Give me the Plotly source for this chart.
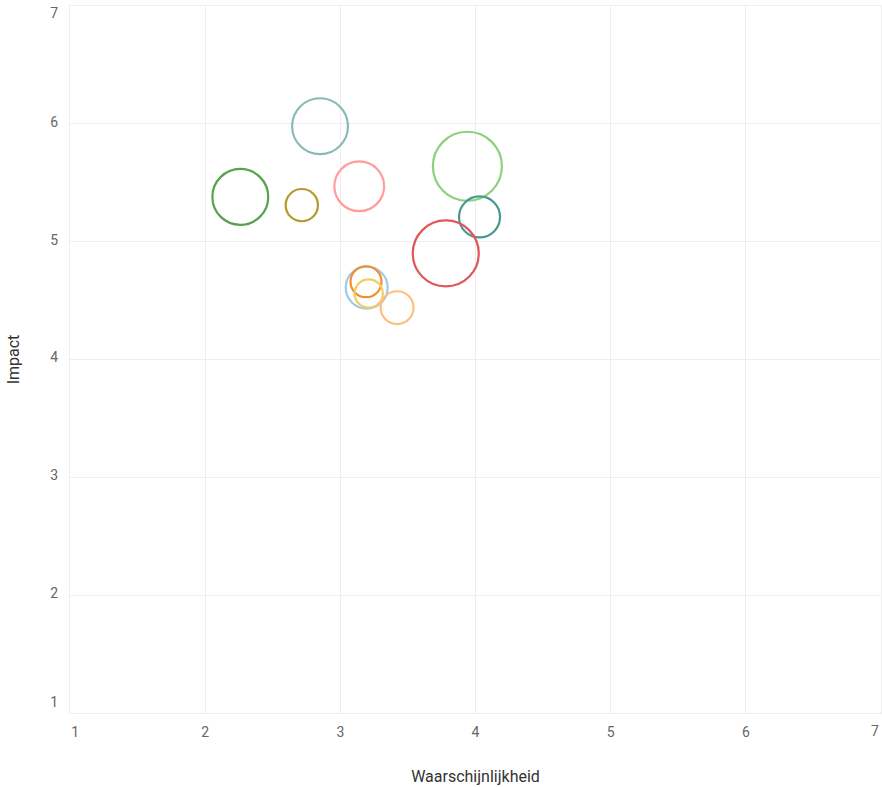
import plotly.graph_objects as go

# Data
waarschijnlijkheid = [2.85, 2.26, 2.715, 3.14, 3.94, 4.03, 3.78, 3.195, 3.19, 3.21, 3.42]
impact = [5.98, 5.38, 5.31, 5.47, 5.64, 5.21, 4.90, 4.61, 4.66, 4.56, 4.44]
gewicht = [78, 78, 26, 62, 119, 42, 109, 44, 24, 20, 27]
kleuren = ["#86BCB6", "#59A14F", "#B6992D", "#FF9D9A", "#8CD17D", "#499894",
           "#E15759", "#A0CBE8", "#F28E2B", "#F1CE63", "#FFBE7D"]
tick_waarden = [1, 2, 3, 4, 5, 6, 7]
x_tick_labels = ["\u00a0\u00a0\u00a01", "2", "3", "4", "5", "6", ""]
x_laatste_label = "7"
y_tick_labels = ["1<br>\u00a0", "2", "3", "4", "5", "6", "\u00a0<br>7"]

fig = go.Figure()
for x, y, z, c in zip(waarschijnlijkheid, impact, gewicht, kleuren):
    fig.add_trace(go.Scatter(
        x=[x], y=[y], mode="markers",
        marker=dict(size=[z], sizemode="area", sizeref=0.05, opacity=1,
                    color="rgba(255,255,255,0)",
                    line=dict(color=c, width=2.2)),
        showlegend=False, hoverinfo="x+y",
    ))

font = "Roboto, sans-serif"
fig.add_annotation(x=tick_waarden[-1], xref="x", y=0, yref="paper",
                   text=x_laatste_label, showarrow=False,
                   xanchor="right", yanchor="middle", yshift=-18,
                   font=dict(family=font, size=14, color="#666666"))

fig.update_layout(
    width=882, height=787,
    margin=dict(l=70, r=1, t=6, b=74),
    paper_bgcolor="white", plot_bgcolor="white",
    font=dict(family=font, color="#666666", size=14),
    xaxis=dict(range=[1, 7.0001], tickvals=tick_waarden, ticktext=x_tick_labels,
               showgrid=True, gridcolor="#eeeeee",
               gridwidth=1, zeroline=False, showline=True, linecolor="#eeeeee",
               mirror=True, ticks="", ticklabelstandoff=6, automargin=False,
               ticklabeloverflow="allow",
               title=dict(text="Waarschijnlijkheid", font=dict(size=16, color="#333333"),
                          standoff=32)),
    yaxis=dict(range=[0.9999, 7.0001], tickvals=tick_waarden, ticktext=y_tick_labels,
               showgrid=True, gridcolor="#eeeeee",
               gridwidth=1, zeroline=False, showline=True, linecolor="#eeeeee",
               mirror=True, ticks="", ticklabelstandoff=8, automargin=False,
               ticklabelshift=-2, ticklabeloverflow="allow",
               title=dict(text="Impact", font=dict(size=16, color="#333333"),
                          standoff=26)),
)

fig.write_html("out.html",
               config={"displayModeBar": False},
               post_script="document.body.style.margin='0';"
                           "document.body.style.overflow='hidden';")
